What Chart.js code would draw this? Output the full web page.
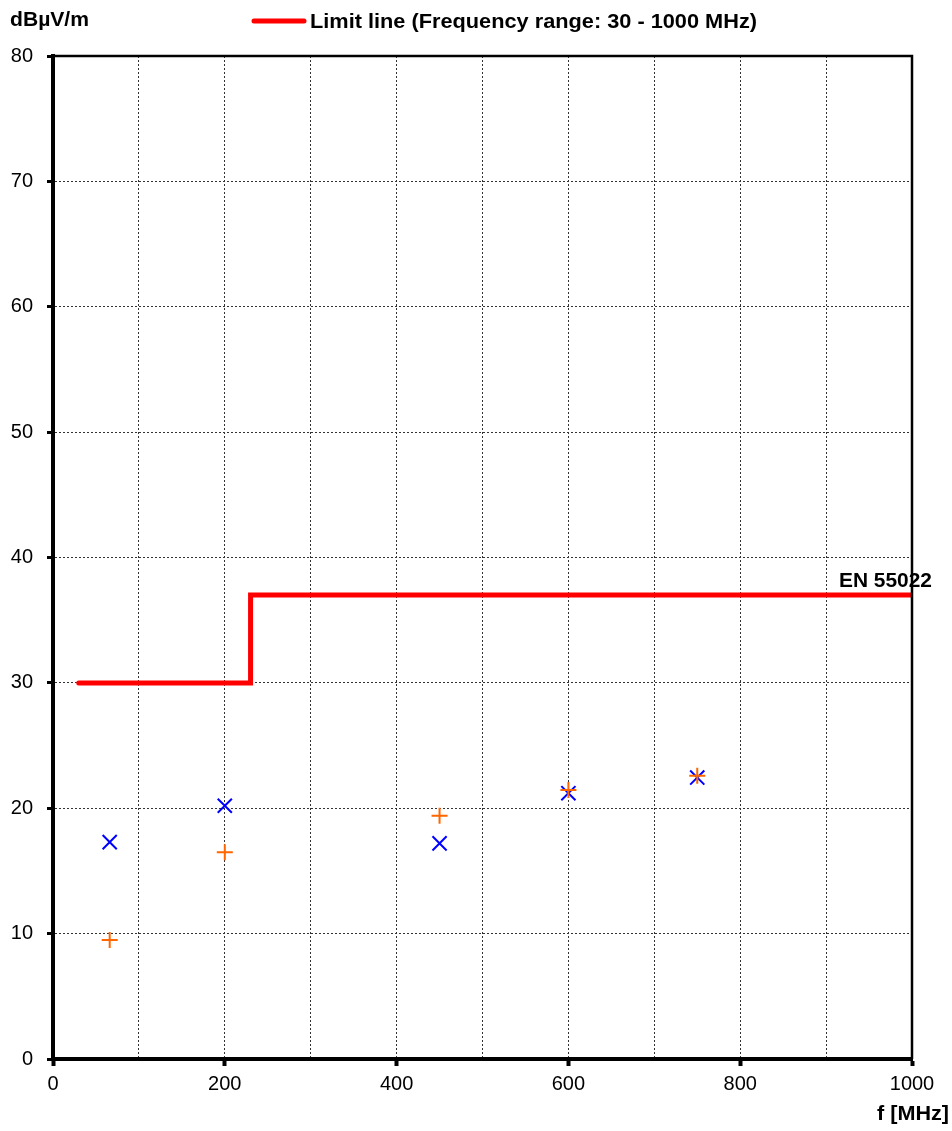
<!DOCTYPE html>
<html>
<head>
<meta charset="utf-8">
<script src="https://cdn.jsdelivr.net/npm/chart.js@4/dist/chart.umd.min.js"></script>
<style>
  html, body { margin: 0; padding: 0; background: #fff; }
  #wrap { width: 952px; height: 1131px; }
</style>
</head>
<body>
<div id="wrap"><canvas id="emcChart" width="952" height="1131"></canvas></div>
<script>
// measured frequencies (MHz) and levels (dBµV/m)
const measFreq = [66, 200, 450, 600, 750];
const levelsBlue = [17.3, 20.2, 17.2, 21.2, 22.45];
const levelsOrange = [9.5, 16.5, 19.4, 21.45, 22.6];

// EN 55022 limit line (corner points)
const limitFreq = [30, 230, 230, 1000];
const limitLevel = [30, 30, 37, 37];

// axis ticks
const xTicks = [0, 200, 400, 600, 800, 1000];
const yTicks = [0, 10, 20, 30, 40, 50, 60, 70, 80];

const legendText = 'Limit line (Frequency range: 30 - 1000 MHz)';
const yUnit = 'dBµV/m';
const xUnit = 'f [MHz]';
const limitName = 'EN 55022';

const FONT = '"Liberation Sans", Arial, sans-serif';

const toPoints = (xs, ys) => xs.map((x, i) => ({ x: x, y: ys[i] }));

// draw text stretched to a given width
function fitText(ctx, text, x, y, width, font) {
    ctx.save();
    ctx.font = font;
    const w = ctx.measureText(text).width;
    ctx.translate(x, y);
    ctx.scale(width / w, 1);
    ctx.textAlign = 'left';
    ctx.textBaseline = 'middle';
    ctx.fillStyle = '#000';
    ctx.fillText(text, 0, 0);
    ctx.restore();
}

const extrasPlugin = {
    id: 'extras',
    afterDraw(chart) {
        const ctx = chart.ctx;
        const area = chart.chartArea;
        const xs = chart.scales.x;
        const ys = chart.scales.y;

        // top and right frame
        ctx.save();
        ctx.strokeStyle = '#000';
        ctx.lineWidth = 2.5;
        ctx.beginPath();
        ctx.moveTo(area.left, area.top);
        ctx.lineTo(area.right, area.top);
        ctx.lineTo(area.right, area.bottom);
        ctx.stroke();
        ctx.restore();

        // legend
        ctx.save();
        ctx.strokeStyle = '#ff0000';
        ctx.lineWidth = 5;
        ctx.lineCap = 'round';
        ctx.beginPath();
        ctx.moveTo(254, 21);
        ctx.lineTo(304, 21);
        ctx.stroke();
        ctx.restore();
        fitText(ctx, legendText, 310, 22, 447, 'bold 20px ' + FONT);

        fitText(ctx, yUnit, 10, 20, 79, 'bold 20px ' + FONT);
        fitText(ctx, xUnit, 877, 1114, 72, 'bold 20px ' + FONT);

        // limit label above the line end
        const lx = xs.getPixelForValue(limitFreq[limitFreq.length - 1]);
        const ly = ys.getPixelForValue(limitLevel[limitLevel.length - 1]);
        fitText(ctx, limitName, lx - 73, ly - 14, 93, 'bold 20px ' + FONT);
    }
};

const ctx = document.getElementById('emcChart').getContext('2d');
new Chart(ctx, {
    type: 'scatter',
    data: {
        datasets: [{
            label: legendText,
            data: toPoints(limitFreq, limitLevel),
            showLine: true,
            borderColor: '#ff0000',
            backgroundColor: '#ff0000',
            borderWidth: 5,
            borderCapStyle: 'round',
            borderJoinStyle: 'miter',
            pointRadius: 0,
            order: 3
        }, {
            label: 'blue',
            data: toPoints(measFreq, levelsBlue),
            pointStyle: 'crossRot',
            pointRadius: 10,
            pointBorderWidth: 2,
            borderColor: '#0000ff',
            backgroundColor: '#0000ff',
            order: 2
        }, {
            label: 'orange',
            data: toPoints(measFreq, levelsOrange),
            pointStyle: 'cross',
            pointRadius: 8,
            pointBorderWidth: 2,
            borderColor: '#ff6600',
            backgroundColor: '#ff6600',
            order: 1
        }]
    },
    options: {
        responsive: false,
        animation: false,
        layout: { padding: { left: 0, right: 40, top: 56, bottom: 0 } },
        plugins: {
            legend: { display: false },
            tooltip: { enabled: false }
        },
        scales: {
            x: {
                type: 'linear',
                min: 0,
                max: 1000,
                afterFit: (s) => { s.height = 72; },
                afterBuildTicks: (s) => {
                    s.ticks = [0, 100, 200, 300, 400, 500, 600, 700, 800, 900, 1000].map(v => ({ value: v }));
                },
                ticks: {
                    autoSkip: false,
                    maxRotation: 0,
                    padding: 6,
                    color: '#000',
                    font: { family: FONT, size: 20 },
                    callback: (v) => xTicks.includes(v) ? String(v) : ''
                },
                grid: {
                    color: '#333',
                    lineWidth: 1,
                    tickLength: 7,
                    tickWidth: 4,
                    tickColor: (c) => (c.tick && xTicks.includes(c.tick.value)) ? '#000' : 'rgba(0,0,0,0)'
                },
                border: { color: '#000', width: 4, dash: [2, 2] }
            },
            y: {
                min: 0,
                max: 80,
                afterFit: (s) => { s.width = 53; },
                afterBuildTicks: (s) => {
                    s.ticks = yTicks.map(v => ({ value: v }));
                },
                ticks: {
                    padding: 14,
                    color: '#000',
                    font: { family: FONT, size: 20 }
                },
                grid: {
                    color: '#333',
                    lineWidth: 1,
                    tickLength: 6,
                    tickWidth: 3,
                    tickColor: '#000'
                },
                border: { color: '#000', width: 4, dash: [2, 2] }
            }
        }
    },
    plugins: [extrasPlugin]
});
</script>
</body>
</html>
